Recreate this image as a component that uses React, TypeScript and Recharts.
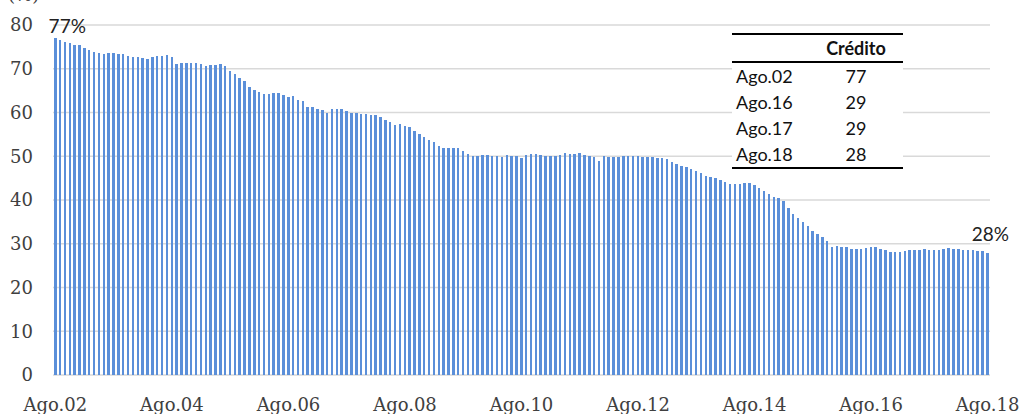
import { BarChart, Bar, XAxis, YAxis, CartesianGrid, LabelList } from "recharts";

// Participación del crédito (%), mensual Ago.02 - Ago.18
const mesesAbrev = ["Ago", "Sep", "Oct", "Nov", "Dic", "Ene", "Feb", "Mar", "Abr", "May", "Jun", "Jul"];

const credito = [
  77.0, 76.6, 76.1, 75.8, 75.4, 75.4, 74.7, 74.3, 73.9, 73.7,
  73.4, 73.6, 73.5, 73.4, 73.4, 72.9, 72.7, 72.7, 72.5, 72.3,
  72.7, 73.0, 73.0, 73.1, 72.6, 71.2, 71.3, 71.3, 71.3, 71.4,
  71.1, 70.6, 70.9, 70.9, 71.0, 70.6, 69.5, 68.8, 67.8, 67.3,
  65.9, 65.1, 64.8, 64.2, 64.2, 64.5, 64.5, 64.1, 63.5, 63.8,
  62.9, 62.6, 61.3, 61.2, 60.9, 60.6, 60.0, 60.7, 60.9, 60.7,
  60.3, 59.9, 60.0, 59.7, 59.6, 59.4, 59.4, 58.9, 58.3, 57.9,
  57.2, 57.3, 57.0, 56.8, 55.8, 55.1, 54.5, 53.7, 53.2, 52.3,
  51.9, 51.9, 51.8, 51.8, 51.3, 50.5, 50.1, 50.1, 50.3, 50.3,
  50.1, 50.1, 49.9, 50.3, 50.1, 50.1, 49.6, 50.2, 50.6, 50.5,
  50.3, 50.1, 50.1, 50.1, 50.3, 50.7, 50.5, 50.5, 50.7, 50.3,
  50.1, 49.8, 49.0, 50.1, 49.8, 49.8, 49.9, 50.0, 50.0, 50.0,
  50.0, 49.9, 49.8, 49.8, 49.7, 49.5, 49.3, 48.8, 48.2, 47.8,
  47.6, 47.2, 46.7, 46.1, 45.6, 45.2, 45.0, 44.6, 44.2, 43.6,
  43.6, 43.6, 43.8, 44.0, 43.4, 42.7, 42.0, 41.4, 40.8, 40.5,
  39.8, 38.1, 36.9, 36.0, 34.9, 34.1, 33.0, 32.2, 31.5, 30.6,
  29.3, 29.6, 29.2, 29.2, 28.9, 28.8, 28.8, 29.0, 29.2, 29.3,
  28.9, 28.6, 28.2, 28.1, 28.2, 28.4, 28.6, 28.6, 28.6, 28.7,
  28.6, 28.5, 28.5, 28.7, 29.0, 28.9, 28.8, 28.6, 28.6, 28.6,
  28.3, 28.3, 28.0,
];

const yTicks = [0, 10, 20, 30, 40, 50, 60, 70, 80];

const tablaFechas = ["Ago.02", "Ago.16", "Ago.17", "Ago.18"];
const tablaCredito = [77, 29, 29, 28];

// categoría "Ago.02", "Sep.02", ... (el año cambia en enero)
const data = credito.map((v, i) => {
  const year = 2 + Math.floor((i + 7) / 12);
  return {
    mes: `${mesesAbrev[i % 12]}.${String(year).padStart(2, "0")}`,
    credito: v,
    etiqueta: i === 0 || i === credito.length - 1 ? `${Math.round(v)}%` : undefined,
  };
});

const serif = "'DejaVu Serif', serif";
const sans = "Lato, 'Open Sans', sans-serif";

const renderPct = (props: any) => {
  const { value } = props;
  if (value === undefined || value === null) return null;
  const x = props.x ?? props.viewBox?.x;
  const y = props.y ?? props.viewBox?.y;
  const w = props.width ?? props.viewBox?.width ?? 0;
  const first = x < 500;
  return (
    <text
      x={x + w / 2 + (first ? 12 : 3)}
      y={y - (first ? 5 : 12)}
      textAnchor="middle"
      fontFamily={sans}
      fontSize={19}
      fill="#222"
    >
      {value}
    </text>
  );
};

const BarShape = (props: any) => {
  const { x, y, width, height, fill } = props;
  if (!height || height <= 0) return null;
  return <rect x={x} y={y} width={width} height={height} fill={fill} shapeRendering="crispEdges" />;
};

const cell = { height: 26, lineHeight: "26px" };

export default function App() {
  return (
    <div style={{ position: "absolute", left: 0, top: 0, width: 1022, height: 414, background: "#fff", overflow: "hidden" }}>
      <div
        style={{
          position: "absolute",
          left: 8,
          top: -14,
          fontFamily: serif,
          fontSize: 18,
          lineHeight: "18px",
          color: "#404040",
        }}
      >
        (%)
      </div>
      <BarChart
        width={1022}
        height={414}
        data={data}
        margin={{ top: 25, right: 32, left: 0, bottom: 0 }}
        barCategoryGap="45%"
      >
        <CartesianGrid vertical={false} stroke="#d9d9d9" strokeWidth={1.5} />
        <XAxis
          dataKey="mes"
          interval={23}
          height={39}
          tickLine={false}
          axisLine={false}
          tickSize={0}
          tickMargin={23}
          tick={{ fontFamily: serif, fontSize: 18, fill: "#404040" }}
        />
        <YAxis
          domain={[0, 80]}
          ticks={yTicks}
          width={53}
          tickLine={false}
          axisLine={false}
          tickSize={0}
          tickMargin={20}
          tick={{ fontFamily: serif, fontSize: 18, fill: "#404040" }}
        />
        <Bar dataKey="credito" fill="#5b8fd9" barSize={2.5} shape={BarShape} isAnimationActive={false}>
          <LabelList dataKey="etiqueta" content={renderPct} />
        </Bar>
      </BarChart>
      <div
        style={{
          position: "absolute",
          left: 732,
          top: 33,
          width: 171,
          background: "#fff",
          borderTop: "2px solid #000",
          borderBottom: "2px solid #000",
          fontFamily: sans,
          fontSize: 18,
          color: "#111",
        }}
      >
        <div style={{ ...cell, display: "flex", borderBottom: "2px solid #000" }}>
          <div style={{ width: 88 }} />
          <div style={{ width: 72, textAlign: "center", fontWeight: 700 }}>Crédito</div>
        </div>
        {tablaFechas.map((f, i) => (
          <div key={f} style={{ ...cell, display: "flex" }}>
            <div style={{ width: 84, paddingLeft: 4 }}>{f}</div>
            <div style={{ width: 72, textAlign: "center" }}>{tablaCredito[i]}</div>
          </div>
        ))}
      </div>
    </div>
  );
}
